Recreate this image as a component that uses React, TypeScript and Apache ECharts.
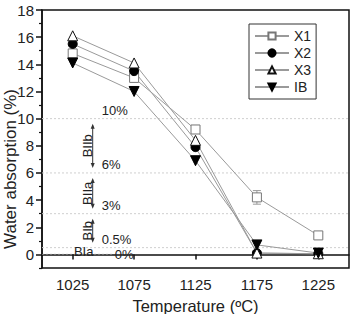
import React, { useEffect, useRef } from "react";
import * as echarts from "echarts";

const temperatures = [1025, 1075, 1125, 1175, 1225];
const x1Values = [14.8, 13.0, 9.2, 4.2, 1.4];
const x1Errors = [0.3, 0.3, 0.3, 0.5, 0.2];
const x2Values = [15.5, 13.5, 7.9, 0.1, 0.05];
const x3Values = [16.1, 14.1, 8.4, 0.1, 0.05];
const ibValues = [14.1, 12.0, 6.9, 0.7, 0.1];
const yTickLabels = [0, 2, 4, 6, 8, 10, 12, 14, 16, 18];
const yMinorTicks = [-1, 1, 3, 5, 7, 9, 11, 13, 15, 17];
const thresholdValues = [10, 6, 3, 0.5, 0];
const thresholdLabels = ["10%", "6%", "3%", "0.5%", "0%"];
const classTop = [10, 6, 3];
const classBottom = [6, 3, 0.5];
const classNames = ["BIIb", "BIIa", "BIb"];
const bottomClassName = "BIa";

const FONT = '"Liberation Sans", Arial, sans-serif';
const LINE_COLOR = "#9a9a9a";

export default function App() {
  const ref = useRef<HTMLDivElement>(null);
  useEffect(() => {
    if (!ref.current) return;
    const chart = echarts.init(ref.current, undefined, { renderer: "svg" });
    const pair = (vals: number[]) => temperatures.map((t, i) => [t, vals[i]]);
    const lineSeries = (name: string, vals: number[], symbol: string, fill: string, stroke: string, size: number, rotate = 0) => ({
      name,
      type: "line",
      data: pair(vals),
      symbol,
      symbolSize: size,
      symbolRotate: rotate,
      showAllSymbol: true,
      lineStyle: { color: LINE_COLOR, width: 1 },
      itemStyle: { color: fill, borderColor: stroke, borderWidth: 1 },
      z: 5,
    });
    chart.setOption({
      animation: false,
      textStyle: { fontFamily: FONT },
      grid: {
        left: 42,
        right: 3,
        top: 10,
        bottom: 46,
        show: true,
        borderColor: "#111",
        borderWidth: 1.5,
        backgroundColor: "transparent",
        containLabel: false,
        outerBoundsMode: "none",
      },
      legend: {
        data: ["X1", "X2", "X3", "IB"],
        orient: "vertical",
        left: 249,
        top: 24,
        padding: [5, 5, 5, 5],
        itemGap: 3,
        itemWidth: 34,
        itemHeight: 9,
        borderColor: "#333",
        borderWidth: 1,
        backgroundColor: "#fff",
        textStyle: { fontSize: 14, color: "#222", fontFamily: FONT, lineHeight: 14 },
      },
      xAxis: {
        type: "value",
        min: 1000,
        max: 1250,
        axisLine: { show: true, lineStyle: { color: "#111", width: 1.5 } },
        axisTick: { show: true, customValues: temperatures, length: 5, lineStyle: { color: "#111", width: 1.5 } },
        axisLabel: {
          customValues: temperatures,
          formatter: (v: number) => String(v),
          fontSize: 15,
          color: "#222",
          margin: 9,
          fontFamily: FONT,
        },
        splitLine: { show: false },
        name: "Temperature (ºC)",
        nameLocation: "middle",
        nameGap: 29,
        nameMoveOverlap: false,
        nameTextStyle: { fontSize: 16.5, color: "#222", fontFamily: FONT },
      },
      yAxis: [
        {
          type: "value",
          min: -1,
          max: 18,
          interval: 1,
          axisLine: { show: true, lineStyle: { color: "#111", width: 1.5 } },
          axisTick: { show: true, customValues: yMinorTicks, length: 3, lineStyle: { color: "#111", width: 1.2 } },
          axisLabel: { customValues: yTickLabels, formatter: (v: number) => String(v), fontSize: 15, color: "#222", margin: 8, fontFamily: FONT },
          splitLine: { show: false },
          name: "Water absorption (%)",
          nameLocation: "middle",
          nameGap: 23,
          nameMoveOverlap: false,
          nameTextStyle: { fontSize: 17, lineHeight: 17, color: "#222", fontFamily: FONT, padding: [0, 60, 0, 0] },
        },
        {
          type: "value",
          min: -1,
          max: 18,
          position: "left",
          axisLine: { show: false },
          axisTick: { show: true, customValues: yTickLabels, length: 6, lineStyle: { color: "#111", width: 1.5 } },
          axisLabel: { show: false },
          splitLine: { show: false },
        },
      ],
      series: [
        {
          name: "thresholds",
          type: "custom",
          silent: true,
          z: 1,
          data: thresholdValues.map((v) => [1025, v]),
          renderItem: (params: any, api: any) => {
            const i = params.dataIndex;
            const v = thresholdValues[i];
            const p = api.coord([1025, v]);
            const cs = params.coordSys;
            const isZero = v === 0;
            return {
              type: "group",
              children: [
                {
                  type: "line",
                  shape: { x1: cs.x, y1: p[1], x2: isZero ? p[0] + 40 : cs.x + cs.width, y2: p[1] },
                  style: { stroke: isZero ? "#777" : "#cfcfcf", lineWidth: 1, lineDash: [2, 2] },
                },
                {
                  type: "text",
                  x: p[0] + (isZero ? 42 : 29),
                  y: p[1] + (isZero ? 0 : -8),
                  style: { text: thresholdLabels[i], fill: "#222", fontSize: 13, fontFamily: FONT, align: "left", verticalAlign: "middle" },
                },
              ],
            };
          },
        },
        {
          name: "classes",
          type: "custom",
          silent: true,
          z: 2,
          data: [...classNames, bottomClassName].map((_, i) => [1025, i < classTop.length ? classTop[i] : 0]),
          renderItem: (params: any, api: any) => {
            const i = params.dataIndex;
            if (i >= classNames.length) {
              const p0 = api.coord([1025, 0]);
              return {
                type: "text",
                x: p0[0] + 11,
                y: p0[1] - 3,
                style: { text: bottomClassName, fill: "#222", fontSize: 13, fontFamily: FONT, align: "center", verticalAlign: "middle" },
              };
            }
            const pt = api.coord([1025, classTop[i]]);
            const pb = api.coord([1025, classBottom[i]]);
            const ax = pt[0] + 20;
            const y1 = pt[1] + 5;
            const y2 = pb[1] - 5;
            return {
              type: "group",
              children: [
                { type: "line", shape: { x1: ax, y1: y1 + 2, x2: ax, y2: y2 - 2 }, style: { stroke: "#333", lineWidth: 1 } },
                { type: "polygon", shape: { points: [[ax, y1], [ax - 2, y1 + 5], [ax + 2, y1 + 5]] }, style: { fill: "#333" } },
                { type: "polygon", shape: { points: [[ax, y2], [ax - 2, y2 - 5], [ax + 2, y2 - 5]] }, style: { fill: "#333" } },
                {
                  type: "text",
                  x: pt[0] + 14.5,
                  y: (y1 + y2) / 2,
                  rotation: Math.PI / 2,
                  style: { text: classNames[i], fill: "#222", fontSize: 13, fontFamily: FONT, align: "center", verticalAlign: "middle" },
                },
              ],
            };
          },
        },
        {
          name: "x1err",
          type: "custom",
          silent: true,
          z: 4,
          data: temperatures.map((t, i) => [t, x1Values[i], x1Errors[i]]),
          renderItem: (params: any, api: any) => {
            const t = api.value(0);
            const v = api.value(1);
            const e = api.value(2);
            const hi = api.coord([t, v + e]);
            const lo = api.coord([t, v - e]);
            const style = { stroke: LINE_COLOR, lineWidth: 1 };
            return {
              type: "group",
              children: [
                { type: "line", shape: { x1: hi[0], y1: hi[1], x2: lo[0], y2: lo[1] }, style },
                { type: "line", shape: { x1: hi[0] - 4, y1: hi[1], x2: hi[0] + 4, y2: hi[1] }, style },
                { type: "line", shape: { x1: lo[0] - 4, y1: lo[1], x2: lo[0] + 4, y2: lo[1] }, style },
              ],
            };
          },
        },
        lineSeries("X1", x1Values, "rect", "#fff", "#777", 9),
        lineSeries("X2", x2Values, "circle", "#000", "#000", 9),
        lineSeries("X3", x3Values, "triangle", "#fff", "#111", 10),
        lineSeries("IB", ibValues, "triangle", "#000", "#000", 10, 180),
      ],
    });
    return () => chart.dispose();
  }, []);
  return <div ref={ref} style={{ width: 352, height: 314, position: "absolute", left: 0, top: 0 }} />;
}
